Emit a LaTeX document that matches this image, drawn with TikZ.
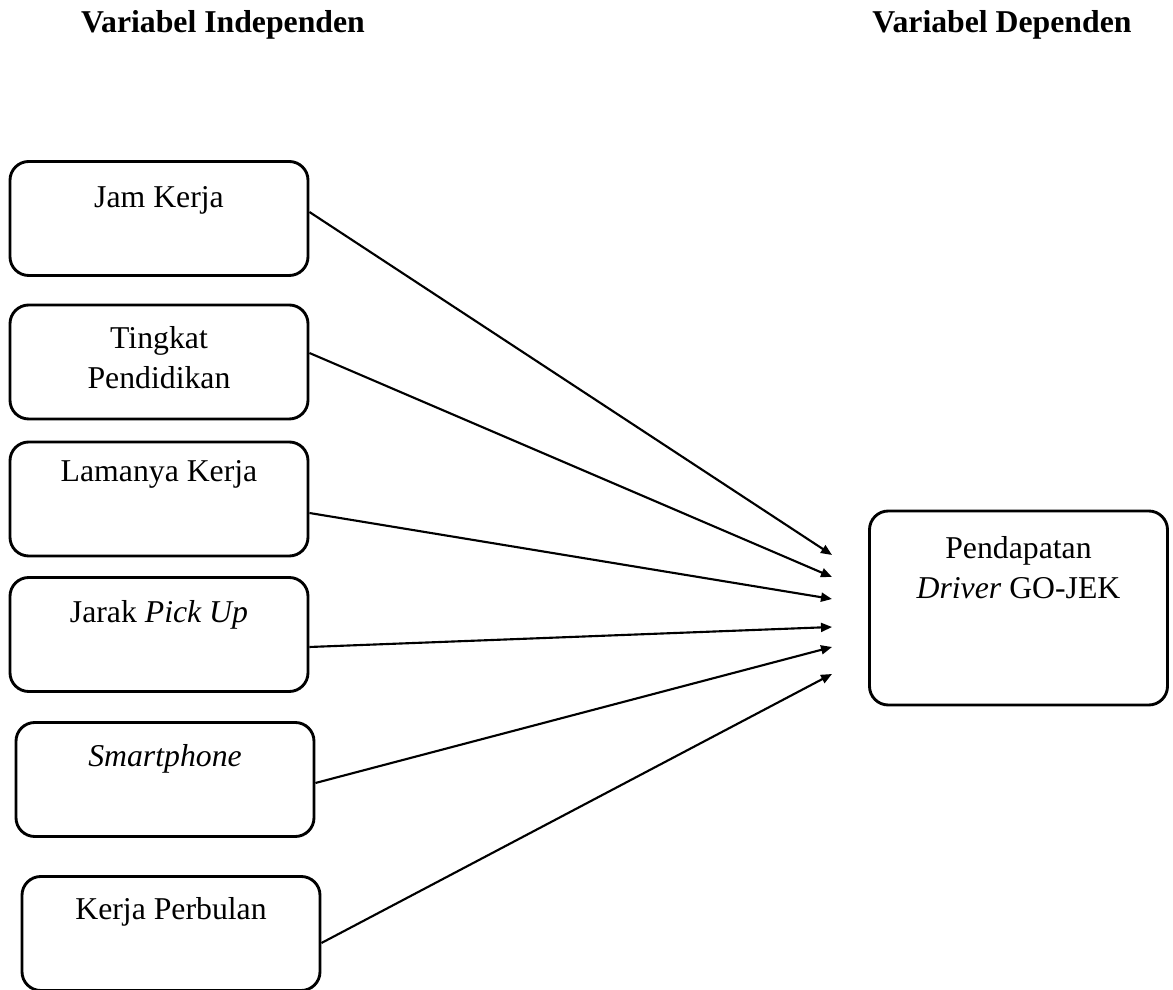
\documentclass[tikz,border=0pt]{standalone}
\usepackage{fontspec}
\setmainfont{Liberation Serif}
\usetikzlibrary{arrows.meta}

\begin{document}
\begin{tikzpicture}[x=0.4pt, y=-0.4pt, font=\fontsize{12.7}{16}\selectfont,
    varbox/.style={draw, line width=1.15pt, rounded corners=7.5pt,
      minimum width=119.2pt, minimum height=45.6pt, inner sep=0pt},
    boxtext/.style={anchor=base, align=center, inner sep=0pt},
    arr/.style={-{Triangle[length=4.4pt,width=3.6pt]}, line width=0.85pt},
    title/.style={anchor=base, font=\fontsize{12.7}{14}\selectfont\bfseries}]
  \useasboundingbox (0,0) rectangle (1173,990);
  \node[title] (indep) at (223,33) {Variabel Independen};
  \node[title] (dep) at (1002,33) {Variabel Dependen};

  \node[varbox, label={[boxtext, yshift=-18.8pt]north:Jam Kerja}] (jam) at (159,218.5) {};
  \node[varbox, label={[boxtext, yshift=-34pt]north:Tingkat\\Pendidikan}] (didik) at (159,362) {};
  \node[varbox, label={[boxtext, yshift=-16.4pt]north:Lamanya Kerja}] (lama) at (159,499) {};
  \node[varbox, label={[boxtext, yshift=-18.4pt]north:Jarak \textit{Pick Up}}] (jarak) at (159,634.5) {};
  \node[varbox, label={[boxtext, yshift=-18pt]north:\textit{Smartphone}}] (hp) at (165,779.5) {};
  \node[varbox, label={[boxtext, yshift=-17.6pt]north:Kerja Perbulan}] (bulan) at (171,933.5) {};

  \node[varbox, minimum height=77.6pt,
    label={[boxtext, yshift=-35.6pt]north:Pendapatan\\\textit{Driver} GO-JEK}] (income) at (1018.5,608) {};

  \coordinate (e1) at (832,555);
  \coordinate (e2) at (832,577);
  \coordinate (e3) at (832,599);
  \coordinate (e4) at (832,627);
  \coordinate (e5) at (832,647);
  \coordinate (e6) at (832,674);

  \draw[arr] ([yshift=2.6pt]jam.east) -- (e1);
  \draw[arr] ([yshift=3.6pt]didik.east) -- (e2);
  \draw[arr] ([yshift=-5.6pt]lama.east) -- (e3);
  \draw[arr] ([yshift=-5pt]jarak.east) -- (e4);
  \draw[arr] ([yshift=-1.4pt]hp.east) -- (e5);
  \draw[arr] ([yshift=-3.8pt]bulan.east) -- (e6);
\end{tikzpicture}
\end{document}
